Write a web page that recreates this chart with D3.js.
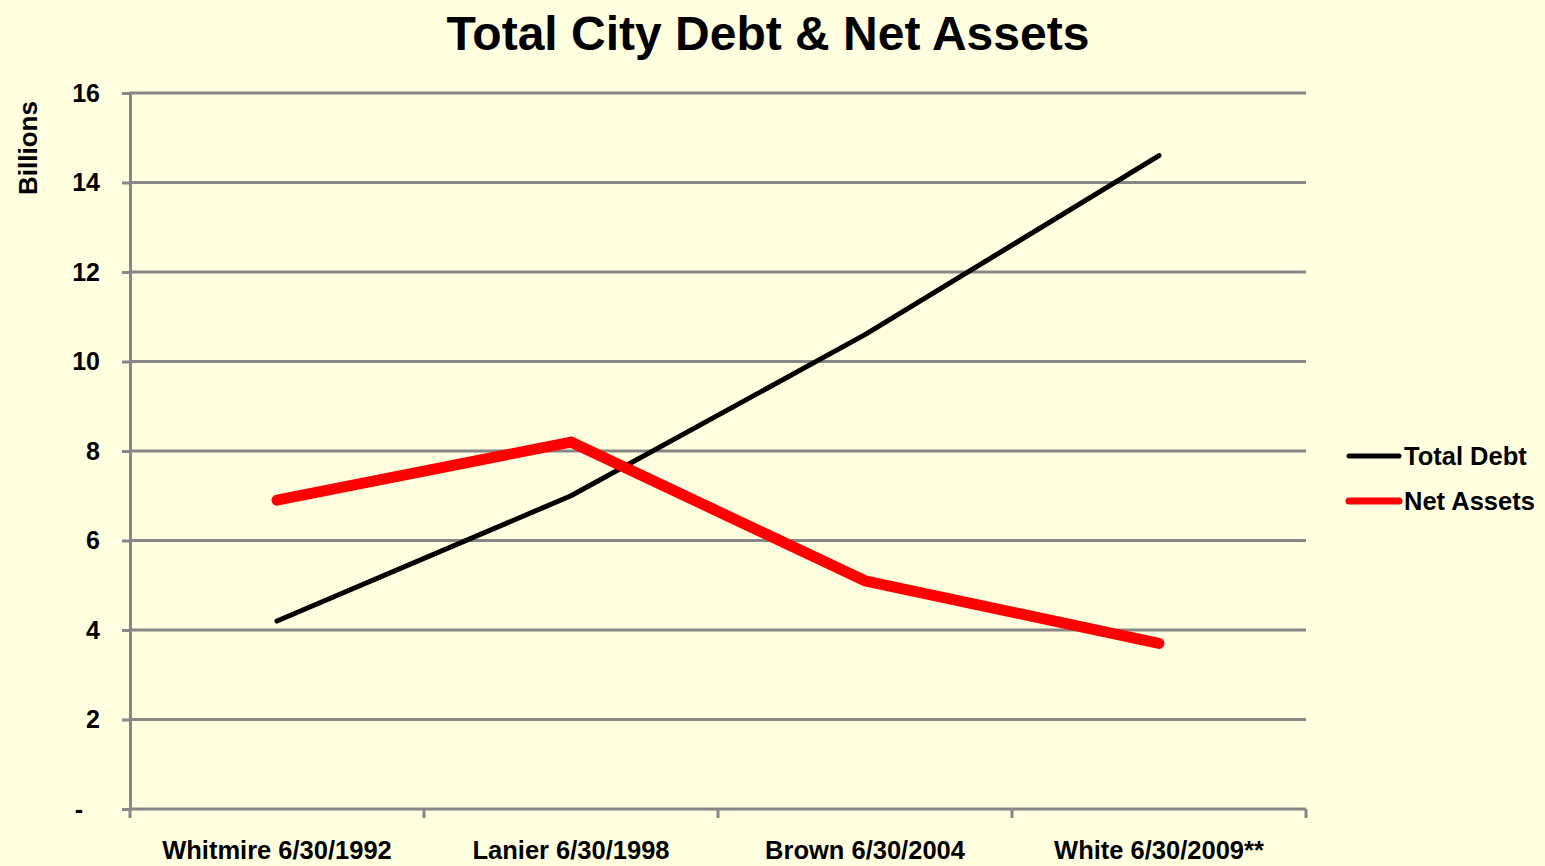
<!DOCTYPE html>
<html><head><meta charset="utf-8">
<script src="https://cdn.jsdelivr.net/npm/d3@7"></script>
<style>
html,body{margin:0;padding:0;background:#FFFFE0;}
svg{display:block;}
text{font-family:"Liberation Sans",Arial,sans-serif;font-weight:bold;fill:#000;}
</style></head>
<body>
<svg id="chart" width="1545" height="866"></svg>
<script>
const categories = ["Whitmire 6/30/1992","Lanier 6/30/1998","Brown 6/30/2004","White 6/30/2009**"];
const totalDebt = [4.2, 7.0, 10.6, 14.6];
const netAssets = [6.9, 8.2, 5.1, 3.7];
const yTicks = [0,2,4,6,8,10,12,14,16];
const seriesNames = ["Total Debt","Net Assets"];
const seriesColors = ["#000000","#FF0000"];

const svg = d3.select("#chart");
const W = 1545, H = 866;
const m = {left:130, right:1306, top:93, bottom:809};
const FONT = "'Liberation Sans',Arial,sans-serif";

svg.append("rect").attr("width",W).attr("height",H).attr("fill","#FFFFE0");

const x = d3.scaleBand().domain(categories).range([m.left, m.right]).paddingInner(0).paddingOuter(0);
const y = d3.scaleLinear().domain([0,16]).range([m.bottom, m.top]);

// gridlines
svg.append("g").selectAll("line").data(yTicks.filter(d=>d>0)).join("line")
  .attr("x1", m.left).attr("x2", m.right)
  .attr("y1", d=>y(d)).attr("y2", d=>y(d))
  .attr("stroke","#878787").attr("stroke-width",3);

// y axis
const yAxis = d3.axisLeft(y).tickValues(yTicks).tickSize(8).tickPadding(22)
  .tickFormat(d=> d===0 ? "-" : d);
const gy = svg.append("g").attr("transform",`translate(${m.left},0)`).call(yAxis);
gy.select(".domain").attr("stroke","#878787").attr("stroke-width",3);
gy.selectAll(".tick line").attr("stroke","#878787").attr("stroke-width",3);
gy.selectAll(".tick text").attr("font-size","25px").attr("font-family",FONT).attr("font-weight","bold").attr("fill","#000");
gy.selectAll(".tick text").filter(d=>d===0).attr("dx",-17);

// x axis
const xAxis = d3.axisBottom(x).tickSize(0).tickPadding(32);
const gx = svg.append("g").attr("transform",`translate(0,${m.bottom})`).call(xAxis);
gx.select(".domain").attr("stroke","#878787").attr("stroke-width",3).attr("d",`M${m.left},0H${m.right}`);
gx.selectAll(".tick text").attr("font-size","25.5px").attr("font-family",FONT).attr("font-weight","bold").attr("fill","#000");
// boundary tick marks between categories
const bounds = categories.map(c=>x(c)).concat([x(categories[categories.length-1])+x.bandwidth()]);
svg.append("g").selectAll("line").data(bounds).join("line")
  .attr("x1",d=>d).attr("x2",d=>d).attr("y1",m.bottom).attr("y2",m.bottom+9)
  .attr("stroke","#878787").attr("stroke-width",3);

// lines
const line = d3.line().x((d,i)=>x(categories[i])+x.bandwidth()/2).y(d=>y(d));
svg.append("path").datum(totalDebt).attr("d",line).attr("fill","none")
  .attr("stroke",seriesColors[0]).attr("stroke-width",5).attr("stroke-linecap","round").attr("stroke-linejoin","round");
svg.append("path").datum(netAssets).attr("d",line).attr("fill","none")
  .attr("stroke",seriesColors[1]).attr("stroke-width",11).attr("stroke-linecap","round").attr("stroke-linejoin","round");

// title
svg.append("text").attr("x",768).attr("y",50).attr("text-anchor","middle")
  .attr("font-size","48px").text("Total City Debt & Net Assets");

// y label
svg.append("text").attr("transform","translate(37,148) rotate(-90)").attr("text-anchor","middle")
  .attr("font-size","26px").text("Billions");

// legend
const lg = svg.append("g");
const legY = [456, 501];
const legW = [5, 7];
seriesNames.forEach((n,i)=>{
  lg.append("line").attr("x1",1349).attr("x2",1399).attr("y1",legY[i]).attr("y2",legY[i])
    .attr("stroke",seriesColors[i]).attr("stroke-width",legW[i]).attr("stroke-linecap","round");
  lg.append("text").attr("x",1404).attr("y",legY[i]+9).attr("font-size","25.5px").text(n);
});
</script>
</body></html>
